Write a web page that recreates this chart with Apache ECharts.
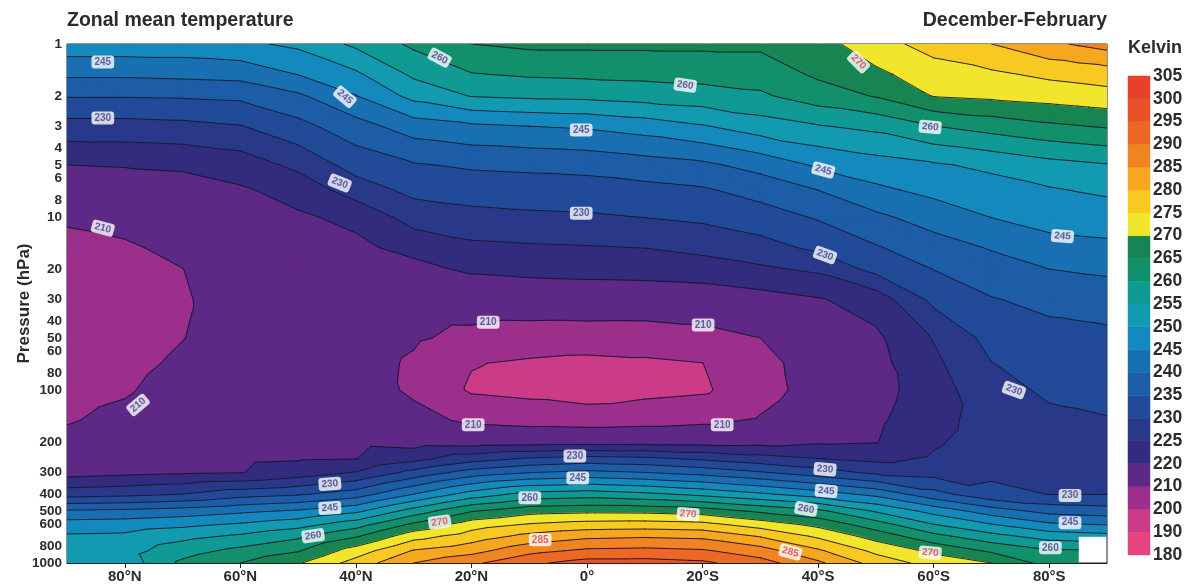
<!DOCTYPE html>
<html><head><meta charset="utf-8">
<script src="https://cdn.jsdelivr.net/npm/echarts@6/dist/echarts.min.js"></script>
<style>html,body{margin:0;padding:0;background:#fff}#c{width:1189px;height:586px}</style>
</head><body><div id="c"></div>
<script>
// ---- data ----
const lats = [90,80,70,60,50,40,30,20,10,0,-10,-20,-30,-40,-50,-60,-70,-80,-85,-90];
const pressures = [1,1.5,2,3,5,7,10,15,20,30,50,70,100,150,200,250,300,400,500,600,700,850,1000];
// temperature (K), one row per latitude, values top (1 hPa) to bottom (1000 hPa)
const temps = [
 [248,240.8,235.3,228.1,220,215.6,210.9,208.2,206.6,204.5,204.1,205.7,207.5,209.4,212.3,215.5,218,227.9,240.6,247.4,250.6,253,251],
 [248,240.8,235.3,228.1,220.4,216.5,212.4,209.1,207.7,205.7,206.5,207.8,209.2,212,214.8,217,218.8,228.6,241.1,247.8,250.9,253,252],
 [248,241.2,235.5,228.6,220.8,217.8,215,211.8,209.9,209.1,209.8,211.3,213.3,215.6,217.2,218.4,219.4,230,242.2,248.9,253.5,258,261],
 [249,241.7,236,229.7,222.3,219.4,218.1,216.6,215.5,214,213.8,214.9,216.1,217.5,218.5,219.2,219.8,232.9,243.9,250.7,255.8,261.4,265],
 [251,245.1,239.1,233.4,226.3,221.7,219.4,218.3,217.5,216.4,215.1,215.9,217,218.1,219,219.6,222.3,234.4,245.6,253.1,259,264.6,269.5],
 [256,249.1,244.8,237.9,232,227.5,221.1,219,218.1,216.9,215.3,214.3,215.3,217.4,218.8,219.9,225.3,237.5,248.8,257.9,264.4,272.4,277],
 [261,255.9,251.5,242.4,234.6,231.3,227.2,221.5,218.5,215.3,211.3,208.6,208.3,213.3,217.9,223.5,231.6,245,257.1,266.1,273,280.4,285],
 [265,259.7,255.2,244,235.7,232.2,228.5,223.9,220.9,215.4,207.3,200.5,198.8,208.2,217.4,227.9,237.2,252.1,264.6,272.7,277.3,283.3,289],
 [266,260.6,255.9,244.9,236.1,232.6,229.1,224.4,221.7,215.6,205.4,198.7,197.1,206.9,217.8,230.7,239.9,256.7,268.1,275.5,281.4,288.5,294],
 [266,261,256.2,245.6,236.6,232.8,229.4,224.7,222,216.1,205.2,197.5,194.5,206.2,218,232,241.3,257.6,268.8,277,283.8,291,297],
 [266,261.3,257.1,247.2,237.8,233.5,230.1,225.1,222.3,216.2,205,198.5,197.1,206.9,218.2,231.3,240.1,256.1,268.6,277.3,284.4,291.4,297],
 [266,261.7,257.9,249.5,239,234.4,231,226.3,222.8,216.7,206.5,199.9,198.6,208.2,218.1,229.3,238.2,253.7,267.5,276.6,283.8,290.6,296],
 [266,262.2,259.2,252.6,241.8,236.8,232.8,228.2,224.2,218,210,207,206.3,210.9,218.3,227.1,235.5,250.8,264,272.8,279.6,287.3,292],
 [268,265.8,262.6,254.6,245.7,240,235.5,231.1,225.9,219.6,216.5,214.4,214,217.2,219.4,225.2,232.4,247.5,261.1,268.7,274.1,280.8,286],
 [273,268.9,265.3,256.2,247.9,244,239,234.6,231.6,222.1,219.1,218.5,218.3,219.2,219.8,223.8,229,243.6,254.4,262.3,268,273.8,278],
 [277,272.6,270.2,259.8,249.4,246.3,242.2,237.8,235.1,231.3,225.3,223.9,222.5,223.1,224.3,225.7,228,236.8,248.2,255.2,261.5,268.9,273],
 [280,274.1,271,262,251.1,247.9,245.1,240.4,237.9,234.7,231.7,229.9,228.7,227.4,227.6,228.4,229.1,231.3,242.4,250.3,256.7,264.2,270],
 [284,276,272,264,253.3,249.5,246.9,243.2,240,236.3,233.4,232.1,230.6,229.2,228.3,228.4,229,229.9,238.3,246,252.8,260.5,263],
 [285.5,276.6,272.6,264.7,254,250.2,247.3,243.6,240.5,236.7,233.6,232.3,230.8,229.5,228.8,228.8,229.2,229.9,237.7,245.4,252.2,260.6,263],
 [287,277.3,273.2,265.4,254.7,250.8,247.6,243.9,240.9,237.2,233.9,232.6,231.1,229.8,229.3,229.1,229.4,229.9,237.2,244.8,251.6,null,null]
];
const levels = [180,190,200,210,220,225,230,235,240,245,250,255,260,265,270,275,280,285,290,295,300,305];
const bandColors = ['#e6437f','#cc3b88','#9d2f8c','#5e2886','#332b7d','#2a3889','#214a98','#1d5ca6','#1870b2','#1489bd','#129bb0','#0f9a93','#12906c','#178552','#f1e62c','#f7c921','#f6a61f','#f18422','#ed6824','#e95227','#e6412a'];
const xTickValues = [80,60,40,20,0,-20,-40,-60,-80];
const yLabelValues = [1,2,3,4,5,6,8,10,20,30,40,50,60,80,100,200,300,400,500,600,800,1000];
const yTickValues = [1,2,3,4,5,6,7,8,9,10,20,30,40,50,60,70,80,90,100,200,300,400,500,600,700,800,900,1000];
// contour labels: [latitude, pressure, value]
const contourLabels = [
 [83.8,1.27,245],[83.8,2.68,230],[25.5,1.2,260],[41.9,2.02,245],[42.8,6.36,230],[83.8,11.6,210],[77.7,122,210],
 [-17,1.73,260],[1,3.14,245],[1,9.5,230],[-47,1.27,270],[-59.4,3.02,260],[-40.9,5.35,245],[-41.2,16.6,230],
 [-82.3,12.9,245],[17.1,40.6,210],[-20.1,42.1,210],[-73.9,100,230],[19.7,159,210],[-23.4,159,210],
 [2.1,241,230],[1.6,323,245],[9.9,420,260],[25.5,580,270],[-17.5,522,270],[8.1,735,285],[-35.2,864,285],
 [-59.4,873,270],[-80.2,817,260],[-83.6,585,245],[-83.6,407,230],[44.5,349,230],[44.5,481,245],[47.4,696,260],
 [-41.2,287,230],[-41.4,383,245],[-37.9,487,260]
];
const labelAngles = [0,0,-28,-40,-22,-15,40,-8,0,0,-45,-5,-15,-20,-5,0,0,-20,0,0,0,0,0,8,-4,0,-15,-5,0,0,0,4,4,8,-5,-5,-10];

// ---- rendering ----
const cells = [];
for (let i = 0; i < lats.length - 1; i++)
  for (let j = 0; j < pressures.length - 1; j++)
    cells.push([lats[i], pressures[j], i, j]);

function corners(api) {
  const i = api.value(2), j = api.value(3);
  const idx = [[i, j], [i + 1, j], [i + 1, j + 1], [i, j + 1]];
  const pts = [];
  for (const [a, b] of idx) {
    const t = temps[a][b];
    if (t == null) return null;
    const c = api.coord([lats[a], pressures[b]]);
    pts.push([c[0], c[1], t]);
  }
  return [[pts[0], pts[1], pts[2]], [pts[0], pts[2], pts[3]]];
}
function clip(poly, c, above) {
  const out = [];
  const n = poly.length;
  for (let k = 0; k < n; k++) {
    const u = poly[k], v = poly[(k + 1) % n];
    const inU = above ? u[2] >= c : u[2] <= c;
    const inV = above ? v[2] >= c : v[2] <= c;
    if (inU) out.push(u);
    if (inU !== inV) {
      const t = (c - u[2]) / (v[2] - u[2]);
      out.push([u[0] + t * (v[0] - u[0]), u[1] + t * (v[1] - u[1]), c]);
    }
  }
  return out;
}
function renderFill(params, api) {
  const tris = corners(api);
  if (!tris) return null;
  const children = [];
  const nb = bandColors.length;
  for (const tri of tris) {
    const tmin = Math.min(tri[0][2], tri[1][2], tri[2][2]);
    const tmax = Math.max(tri[0][2], tri[1][2], tri[2][2]);
    for (let k = 0; k < nb; k++) {
      const lo = k === 0 ? -1e9 : levels[k];
      const hi = k === nb - 1 ? 1e9 : levels[k + 1];
      if (tmax < lo || tmin > hi) continue;
      const poly = clip(clip(tri, lo, true), hi, false);
      if (poly.length < 3) continue;
      children.push({type: 'polygon', shape: {points: poly.map(p => [p[0], p[1]])},
        style: {fill: bandColors[k], stroke: bandColors[k], lineWidth: 1.2, lineJoin: 'round'}});
    }
  }
  return {type: 'group', children};
}
function renderLines(params, api) {
  const tris = corners(api);
  if (!tris) return null;
  const children = [];
  for (const tri of tris) {
    for (let k = 1; k < levels.length - 1; k++) {
      const c = levels[k];
      const pts = [];
      for (let e = 0; e < 3; e++) {
        const u = tri[e], v = tri[(e + 1) % 3];
        if ((u[2] >= c) !== (v[2] >= c)) {
          const t = (c - u[2]) / (v[2] - u[2]);
          pts.push([u[0] + t * (v[0] - u[0]), u[1] + t * (v[1] - u[1])]);
        }
      }
      if (pts.length === 2) children.push({type: 'line',
        shape: {x1: pts[0][0], y1: pts[0][1], x2: pts[1][0], y2: pts[1][1]},
        style: {stroke: '#15152a', lineWidth: 0.9, lineCap: 'round'}});
    }
  }
  return {type: 'group', children};
}
function renderBar(params, api) {
  const k = api.value(0);
  const a = api.coord([0, k]), b = api.coord([1, k + 1]);
  return {type: 'rect', shape: {x: a[0], y: b[1], width: b[0] - a[0], height: a[1] - b[1]},
    style: {fill: bandColors[k], stroke: bandColors[k], lineWidth: 0.5}};
}

const txt = '#2b2b2b';
const font = '"Liberation Sans", Arial, sans-serif';
const chart = echarts.init(document.getElementById('c'));
chart.setOption({
  animation: false,
  backgroundColor: '#ffffff',
  textStyle: {fontFamily: font},
  title: [
    {text: 'Zonal mean temperature', left: 67, top: 11, padding: 0, textStyle: {fontSize: 19.5, fontWeight: 'bold', color: txt, fontFamily: font}},
    {text: 'December-February', right: 82, top: 11, padding: 0, textStyle: {fontSize: 19.5, fontWeight: 'bold', color: txt, fontFamily: font}},
    {text: 'Kelvin', left: 1128, top: 39, padding: 0, textStyle: {fontSize: 18, fontWeight: 'bold', color: txt, fontFamily: font}}
  ],
  grid: [
    {left: 67, right: 82, top: 44, bottom: 23, show: true, borderColor: '#222', borderWidth: 1, backgroundColor: 'transparent'},
    {left: 1128, top: 76, width: 22, height: 479}
  ],
  xAxis: [
    {type: 'value', gridIndex: 0, min: -90, max: 90, inverse: true,
     axisLine: {show: true, lineStyle: {color: '#222', width: 1}},
     axisTick: {show: true, customValues: xTickValues, length: 5, lineStyle: {color: '#222'}},
     axisLabel: {customValues: xTickValues, fontSize: 15, fontWeight: 'bold', color: txt, margin: 6,
       formatter: v => v === 0 ? '0°' : Math.abs(v) + '°' + (v > 0 ? 'N' : 'S')},
     splitLine: {show: false}},
    {type: 'value', gridIndex: 1, min: 0, max: 1, show: false}
  ],
  yAxis: [
    {type: 'log', gridIndex: 0, logBase: 10, min: 1, max: 1000, inverse: true,
     name: 'Pressure (hPa)', nameLocation: 'middle', nameGap: 34, nameRotate: 90, nameMoveOverlap: false,
     nameTextStyle: {fontSize: 17, fontWeight: 'bold', color: txt, fontFamily: font},
     axisLine: {show: true, lineStyle: {color: '#222', width: 1}},
     axisTick: {show: true, customValues: yTickValues, length: 5, lineStyle: {color: '#222'}},
     axisLabel: {customValues: yLabelValues, fontSize: 13.5, fontWeight: 'bold', color: txt, margin: 5,
       formatter: v => String(v)},
     minorTick: {show: false}, splitLine: {show: false}},
    {type: 'value', gridIndex: 1, min: 0, max: bandColors.length, interval: 1, position: 'right',
     axisLine: {show: false}, axisTick: {show: false}, splitLine: {show: false},
     axisLabel: {fontSize: 17.5, fontWeight: 'bold', color: txt, margin: 3, formatter: v => String(levels[v])}}
  ],
  series: [
    {type: 'custom', xAxisIndex: 0, yAxisIndex: 0, renderItem: renderFill, data: cells,
     encode: {x: 0, y: 1}, clip: true, progressive: 0, silent: true, z: 1},
    {type: 'custom', xAxisIndex: 0, yAxisIndex: 0, renderItem: renderLines, data: cells,
     encode: {x: 0, y: 1}, clip: true, progressive: 0, silent: true, z: 2},
    {type: 'scatter', xAxisIndex: 0, yAxisIndex: 0, symbol: 'rect', symbolSize: 1, z: 5,
     itemStyle: {color: 'rgba(0,0,0,0)'}, silent: true,
     data: contourLabels.map((d, k) => ({value: d, label: {rotate: labelAngles[k], color: d[2] >= 270 ? '#e23a4e' : '#3d3a8c'}})),
     label: {show: true, position: 'inside', formatter: p => String(p.value[2]), fontSize: 10, fontWeight: 'bold',
       backgroundColor: '#ffffff', borderRadius: 3, padding: [2, 3, 1, 3], fontFamily: font}},
    {type: 'custom', xAxisIndex: 1, yAxisIndex: 1, renderItem: renderBar,
     data: bandColors.map((c, k) => [k]), encode: {y: 0}, silent: true}
  ]
});
</script>
</body></html>
